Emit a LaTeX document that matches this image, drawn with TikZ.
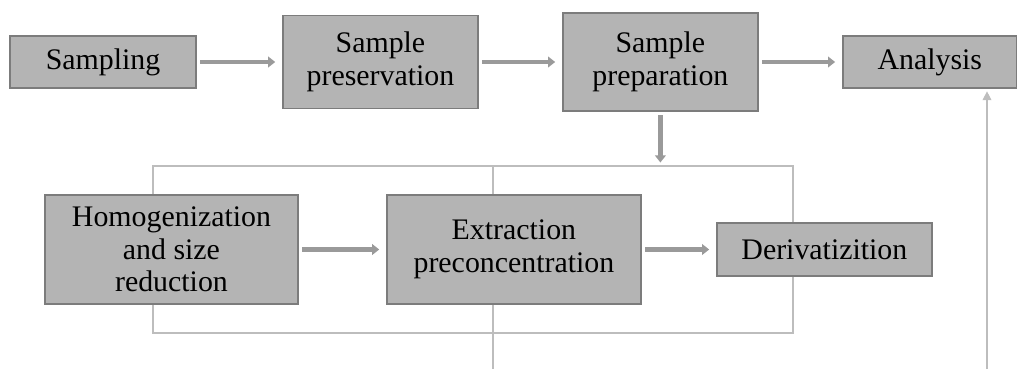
\documentclass[tikz,border=0pt]{standalone}
\usepackage{fontspec}
\setmainfont{Liberation Serif}
\usetikzlibrary{arrows.meta}
\definecolor{boxgray}{HTML}{B4B4B4}
\definecolor{boxedge}{HTML}{7C7C7C}
\definecolor{arrowgray}{HTML}{9A9A9A}
\definecolor{linegray}{HTML}{BDBDBD}
\begin{document}
\begin{tikzpicture}[
                            x=0.02cm, y=-0.02cm,
                            >={Triangle[width=6pt,length=4pt]},
                            stage/.style={rectangle, draw=boxedge, fill=boxgray, line width=0.8pt, align=center, inner sep=0pt, font=\fontsize{17}{18.5}\selectfont},
                            flow/.style={->, draw=arrowgray, fill=arrowgray, line width=2.4pt, shorten <=2pt, shorten >=4pt},
                            guide/.style={draw=linegray, line width=0.6pt}
                        ]
                        \useasboundingbox (0,0) rectangle (1017,369);
                        % Group frame
                        \coordinate (grpnw) at (153,166);
                        \coordinate (grpse) at (793,333);
                        \coordinate (midtop) at (493,166);
                        \coordinate (midbot) at (493,369);
                        \coordinate (anafeed) at (987,369);
                        \draw [guide] (grpnw) rectangle (grpse);
                        \draw [guide] (midtop) -- (midbot);

                        % Blocks
                        \node [stage, minimum width=3.72cm, minimum height=1.04cm] (samp) at (103,62) {Sampling};
                        \node [stage, minimum width=3.9cm, minimum height=1.86cm, right of=samp, node distance=5.55cm] (pres) {Sample\\preservation};
                        \node [stage, minimum width=3.9cm, minimum height=1.96cm, right of=pres, node distance=5.6cm] (prep) {Sample\\preparation};
                        \node [stage, minimum width=3.48cm, minimum height=1.04cm, right of=prep, node distance=5.39cm] (ana) {Analysis};
                        \node [stage, minimum width=5.06cm, minimum height=2.18cm] (homog) at (171.5,249.5) {Homogenization\\and size\\reduction};
                        \node [stage, minimum width=5.08cm, minimum height=2.18cm, right of=homog, node distance=6.85cm] (extr) {Extraction\\preconcentration};
                        \node [stage, minimum width=4.3cm, minimum height=1.06cm, right of=extr, node distance=6.21cm] (deriv) {Derivatizition};

                        % Connections
                        \draw [flow] (samp) -- (pres);
                        \draw [flow] (pres) -- (prep);
                        \draw [flow] (prep) -- (ana);
                        \draw [flow, shorten >=2pt] (prep.south) -- (prep.south |- grpnw);
                        \draw [flow] (homog) -- (extr);
                        \draw [flow] (extr) -- (deriv);
                        \draw [guide, -{Triangle[width=5pt,length=5pt]}, shorten >=1.5pt] (anafeed) -- (ana.south -| anafeed);
                    \end{tikzpicture}
\end{document}
